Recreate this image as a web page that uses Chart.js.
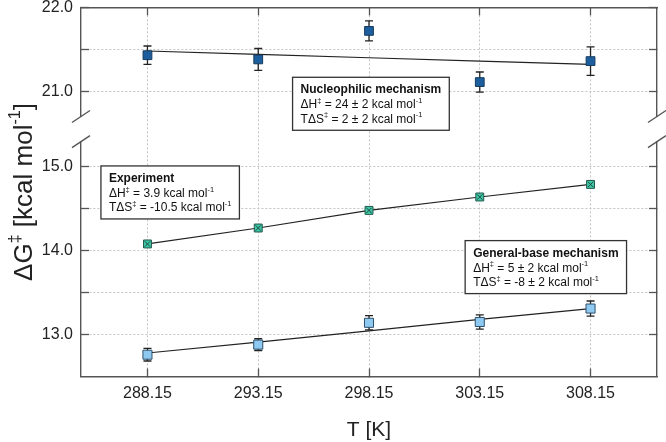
<!DOCTYPE html>
<html>
<head>
<meta charset="utf-8">
<script src="https://cdn.jsdelivr.net/npm/chart.js@4/dist/chart.umd.min.js"></script>
<style>
  html, body { margin: 0; padding: 0; background: #fff; }
</style>
</head>
<body>
<canvas id="chart" width="666" height="442"></canvas>
<script>
var temps = [288.15, 293.15, 298.15, 303.15, 308.15];
var nucValues = [21.43, 21.38, 21.72, 21.11, 21.36];
var nucErrors = [0.11, 0.13, 0.12, 0.12, 0.17];
var nucFit = [21.48, 21.44, 21.40, 21.36, 21.32];
var expValues = [14.08, 14.27, 14.48, 14.64, 14.79];
var gbValues = [12.76, 12.88, 13.14, 13.15, 13.31];
var gbErrors = [0.075, 0.07, 0.085, 0.085, 0.09];
var gbFit = [12.78, 12.91, 13.045, 13.18, 13.31];
var topTicks = [21.0, 21.5, 22.0];
var bottomTicks = [13.0, 13.5, 14.0, 14.5, 15.0];

var family = "'Liberation Sans', Arial, sans-serif";
var gridColor = '#c4c4c4';
var frameColor = '#555';

// text boxes, placed in data units of the x axis and of the given y axis
var notes = [
  { axis: 'yTop', x: 294.7, y: 21.167, title: 'Nucleophilic mechanism',
    rows: [[['ΔH'], ['‡', 1], [' = 24 ± 2 kcal mol'], ['-1', 1]],
           [['TΔS'], ['‡', 1], [' = 2 ± 2 kcal mol'], ['-1', 1]]] },
  { axis: 'yBot', x: 286.05, y: 15.01, title: 'Experiment',
    rows: [[['ΔH'], ['‡', 1], [' = 3.9 kcal mol'], ['-1', 1]],
           [['TΔS'], ['‡', 1], [' = -10.5 kcal mol'], ['-1', 1]]] },
  { axis: 'yBot', x: 302.49, y: 14.12, title: 'General-base mechanism',
    rows: [[['ΔH'], ['‡', 1], [' = 5 ± 2 kcal mol'], ['-1', 1]],
           [['TΔS'], ['‡', 1], [' = -8 ± 2 kcal mol'], ['-1', 1]]] }
];

function pts(vals) {
  return temps.map(function (t, i) { return { x: t, y: vals[i] }; });
}

function drawRich(ctx, parts, x, y, size, weight) {
  parts.forEach(function (p) {
    var fs = p[1] ? size * 0.62 : size;
    ctx.font = (weight || 'normal') + ' ' + fs + 'px ' + family;
    ctx.fillText(p[0], x, p[1] ? y - size * 0.45 : y);
    x += ctx.measureText(p[0]).width;
  });
  return x;
}

function richWidth(ctx, parts, size, weight) {
  var w = 0;
  parts.forEach(function (p) {
    var fs = p[1] ? size * 0.62 : size;
    ctx.font = (weight || 'normal') + ' ' + fs + 'px ' + family;
    w += ctx.measureText(p[0]).width;
  });
  return w;
}

function yAxis(side, min, max, tickVals, weight, stackWeight) {
  var left = side === 'left';
  return {
    type: 'linear', position: side, stack: side, stackWeight: stackWeight, weight: weight,
    min: min, max: max,
    afterBuildTicks: function (s) { s.ticks = tickVals.map(function (v) { return { value: v }; }); },
    ticks: {
      display: left, padding: 16, color: '#222', font: { size: 16 },
      callback: function (v) { return Math.abs(v - Math.round(v)) < 1e-6 ? v.toFixed(1) : ''; }
    },
    grid: { color: gridColor, drawOnChartArea: left, tickColor: frameColor, tickLength: -8, tickWidth: 1.3 },
    border: { color: frameColor, width: 1.4, dash: [2, 2] },
    afterFit: function (s) {
      s.width = left ? 81 : 9;
      s.paddingTop = 0; s.paddingBottom = 0;
    }
  };
}

function gapAxis(side, weight) {
  return {
    type: 'linear', position: side, stack: side, stackWeight: 0.3, weight: weight,
    min: 0, max: 1,
    afterBuildTicks: function (s) { s.ticks = []; },
    ticks: { display: false }, grid: { display: false }, border: { display: false },
    afterFit: function (s) {
      s.width = side === 'left' ? 81 : 9;
      s.paddingTop = 0; s.paddingBottom = 0;
    }
  };
}

var errorBars = {
  id: 'errorBars',
  beforeDatasetsDraw: function (chart) {
    var ctx = chart.ctx, xs = chart.scales.x;
    chart.data.datasets.forEach(function (ds) {
      if (!ds.errors) return;
      var ys = chart.scales[ds.yAxisID];
      ctx.save();
      ctx.strokeStyle = '#222';
      ctx.lineWidth = 1.3;
      ds.data.forEach(function (p, i) {
        var px = xs.getPixelForValue(p.x);
        var hi = ys.getPixelForValue(p.y + ds.errors[i]);
        var lo = ys.getPixelForValue(p.y - ds.errors[i]);
        ctx.beginPath();
        ctx.moveTo(px, hi); ctx.lineTo(px, lo);
        ctx.moveTo(px - 4, hi); ctx.lineTo(px + 4, hi);
        ctx.moveTo(px - 4, lo); ctx.lineTo(px + 4, lo);
        ctx.stroke();
      });
      ctx.restore();
    });
  }
};

var noteBoxes = {
  id: 'noteBoxes',
  afterDatasetsDraw: function (chart) {
    var ctx = chart.ctx, xs = chart.scales.x;
    ctx.save();
    ctx.textBaseline = 'alphabetic';
    notes.forEach(function (n) {
      var left = xs.getPixelForValue(n.x);
      var top = chart.scales[n.axis].getPixelForValue(n.y);
      var w = richWidth(ctx, [[n.title]], 12, 'bold');
      n.rows.forEach(function (r) { w = Math.max(w, richWidth(ctx, r, 12)); });
      ctx.fillStyle = '#fff';
      ctx.strokeStyle = '#333';
      ctx.lineWidth = 1.3;
      ctx.fillRect(left, top, w + 16, 53);
      ctx.strokeRect(left, top, w + 16, 53);
      ctx.fillStyle = '#111';
      drawRich(ctx, [[n.title]], left + 8, top + 16, 12, 'bold');
      n.rows.forEach(function (r, i) { drawRich(ctx, r, left + 8, top + 31 + i * 14.5, 12); });
    });
    ctx.restore();
  }
};

var frameExtras = {
  id: 'frameExtras',
  afterDraw: function (chart) {
    var ctx = chart.ctx, a = chart.chartArea;
    var yT = chart.scales.yTop, yB = chart.scales.yBot;
    ctx.save();
    ctx.strokeStyle = frameColor;
    ctx.lineWidth = 1.3;
    [yT.bottom, yB.top].forEach(function (yy) {
      [a.left, a.right].forEach(function (xx) {
        ctx.beginPath();
        ctx.moveTo(xx - 9, yy + 6);
        ctx.lineTo(xx + 9, yy - 6);
        ctx.stroke();
      });
    });
    // y axis title with superscripts
    ctx.translate(32, (a.top + a.bottom) / 2);
    ctx.rotate(-Math.PI / 2);
    ctx.fillStyle = '#222';
    ctx.textBaseline = 'alphabetic';
    var parts = [['ΔG'], ['‡', 1], [' [kcal mol'], ['-1', 1], [']']];
    var w = richWidth(ctx, parts, 26);
    drawRich(ctx, parts, -w / 2, 0, 26);
    ctx.restore();
  }
};

Chart.defaults.font.family = family;
Chart.defaults.color = '#222';

new Chart(document.getElementById('chart'), {
  type: 'scatter',
  data: {
    datasets: [
      { label: 'Nucleophilic', data: pts(nucValues), errors: nucErrors, yAxisID: 'yTop',
        pointStyle: 'rect', pointRadius: 6.2, backgroundColor: '#1d5f9e', borderColor: '#163a5c', borderWidth: 1 },
      { label: 'General-base', data: pts(gbValues), errors: gbErrors, yAxisID: 'yBot',
        pointStyle: 'rect', pointRadius: 6.4, backgroundColor: '#8ec9f2', borderColor: '#2f4f6a', borderWidth: 1 },
      { label: 'Experiment marks', data: pts(expValues), yAxisID: 'yBot',
        pointStyle: 'crossRot', pointRadius: 3.8, borderColor: '#1c4a40', borderWidth: 1 },
      { label: 'Experiment', data: pts(expValues), yAxisID: 'yBot', showLine: true,
        borderColor: '#222', borderWidth: 1.2,
        pointStyle: 'rect', pointRadius: 5.6, pointBackgroundColor: '#3ec7a6', pointBorderColor: '#24584c', pointBorderWidth: 1 },
      { label: 'Nucleophilic fit', data: pts(nucFit), yAxisID: 'yTop', showLine: true,
        borderColor: '#222', borderWidth: 1.2, pointRadius: 0 },
      { label: 'General-base fit', data: pts(gbFit), yAxisID: 'yBot', showLine: true,
        borderColor: '#222', borderWidth: 1.2, pointRadius: 0 }
    ]
  },
  options: {
    responsive: false,
    animation: false,
    devicePixelRatio: 1,
    layout: { padding: 0 },
    plugins: { legend: { display: false }, tooltip: { enabled: false } },
    scales: {
      x: {
        type: 'linear', position: 'bottom', min: 285.15, max: 311.15,
        afterBuildTicks: function (s) { s.ticks = temps.map(function (v) { return { value: v }; }); },
        ticks: { padding: 15, font: { size: 16 }, maxRotation: 0, autoSkip: false,
                 callback: function (v) { return v.toFixed(2); } },
        grid: { color: gridColor, tickColor: frameColor, tickLength: -8, tickWidth: 1.3 },
        border: { color: frameColor, width: 1.4, dash: [2, 2] },
        title: { display: true, text: 'T [K]', font: { size: 21 }, padding: { top: 0, bottom: -1 } },
        afterFit: function (s) { s.height = 65.5; s.paddingLeft = 0; s.paddingRight = 0; }
      },
      x2: {
        type: 'linear', position: 'top', min: 285.15, max: 311.15,
        afterBuildTicks: function (s) { s.ticks = temps.map(function (v) { return { value: v }; }); },
        ticks: { display: false },
        grid: { drawOnChartArea: false, tickColor: frameColor, tickLength: -8, tickWidth: 1.3 },
        border: { color: frameColor, width: 1.4 },
        afterFit: function (s) { s.height = 7; }
      },
      yTop: yAxis('left', 20.7, 22.0, topTicks, 3, 1.3),
      yGap: gapAxis('left', 2),
      yBot: yAxis('left', 12.5, 15.3, bottomTicks, 1, 2.8),
      yTopR: yAxis('right', 20.7, 22.0, topTicks, 1, 1.3),
      yGapR: gapAxis('right', 2),
      yBotR: yAxis('right', 12.5, 15.3, bottomTicks, 3, 2.8)
    }
  },
  plugins: [errorBars, noteBoxes, frameExtras]
});
</script>
</body>
</html>
